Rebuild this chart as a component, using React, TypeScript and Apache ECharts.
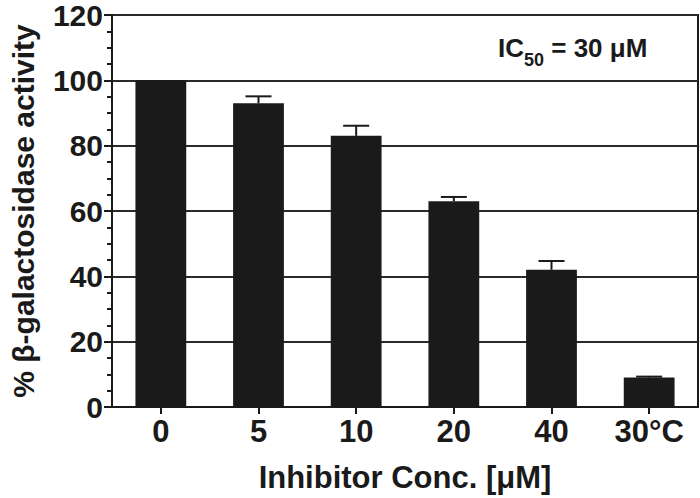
import React, { useEffect, useRef } from "react";
import * as echarts from "echarts";

const categories = ["0", "5", "10", "20", "40", "30°C"];
const activity = [100, 93, 83, 63, 42, 9];
const errorUp = [0, 2.1, 3.1, 1.3, 2.7, 0.3];
const yTicks = { min: 0, max: 120, interval: 20 };

const FONT = "'Liberation Sans', Arial, Helvetica, sans-serif";
const INK = "#1a1a1a";

export default function App() {
  const ref = useRef<HTMLDivElement>(null);
  useEffect(() => {
    if (!ref.current) return;
    const chart = echarts.init(ref.current, null, { renderer: "svg" });
    const errData = activity.map((v, i) => [i, v, v + errorUp[i]]);
    chart.setOption({
      animation: false,
      grid: {
        left: 106,
        right: 2,
        top: 14,
        bottom: 91,
        show: true,
        borderColor: INK,
        borderWidth: 2,
      },
      xAxis: {
        type: "category",
        data: categories,
        axisLine: { show: true, lineStyle: { color: INK, width: 2 } },
        axisTick: { show: true, alignWithLabel: true, length: 7, lineStyle: { color: INK, width: 2 } },
        axisLabel: { color: INK, fontFamily: FONT, fontWeight: "bold", fontSize: 31, margin: 9 },
        name: "Inhibitor Conc. [μM]",
        nameLocation: "middle",
        nameGap: 55,
        nameTextStyle: { color: INK, fontFamily: FONT, fontWeight: "bold", fontSize: 31 },
      },
      yAxis: {
        type: "value",
        min: yTicks.min,
        max: yTicks.max,
        interval: yTicks.interval,
        axisLine: { show: true, lineStyle: { color: INK, width: 2 } },
        axisTick: { show: true, length: 8, lineStyle: { color: INK, width: 2 } },
        minorTick: { show: true, splitNumber: 4, length: 5, lineStyle: { color: INK, width: 2 } },
        splitLine: { show: true, lineStyle: { color: "#2a2a2a", width: 2 } },
        axisLabel: { color: INK, fontFamily: FONT, fontWeight: "bold", fontSize: 30, lineHeight: 26, margin: 9 },
        name: "% β-galactosidase activity",
        nameLocation: "middle",
        nameGap: 74,
        nameTextStyle: { color: INK, fontFamily: FONT, fontWeight: "bold", fontSize: 30 },
      },
      series: [
        {
          type: "bar",
          data: activity,
          barWidth: "52%",
          itemStyle: { color: INK },
          z: 3,
        },
        {
          type: "custom",
          z: 4,
          data: errData,
          renderItem: (params: any, api: any) => {
            const x = api.value(0);
            const top = api.coord([x, api.value(2)]);
            const base = api.coord([x, api.value(1)]);
            const half = 13;
            if (api.value(2) - api.value(1) <= 0) return { type: "group", children: [] };
            return {
              type: "group",
              children: [
                {
                  type: "line",
                  shape: { x1: top[0], y1: top[1], x2: base[0], y2: base[1] },
                  style: { stroke: INK, lineWidth: 2 },
                },
                {
                  type: "line",
                  shape: { x1: top[0] - half, y1: top[1], x2: top[0] + half, y2: top[1] },
                  style: { stroke: INK, lineWidth: 2 },
                },
              ],
            };
          },
        },
      ],
      graphic: [
        {
          type: "text",
          left: 498,
          top: 35,
          style: {
            text: "{a|IC}{s|50}{a| = 30 μM}",
            rich: {
              a: { fontFamily: FONT, fontWeight: "bold", fontSize: 26, fill: INK, lineHeight: 32, verticalAlign: "bottom" },
              s: { fontFamily: FONT, fontWeight: "bold", fontSize: 18, fill: INK, lineHeight: 32, verticalAlign: "bottom", padding: [0, 0, -8, 0] },
            },
          },
        },
      ],
    });
    return () => chart.dispose();
  }, []);
  return <div ref={ref} style={{ width: 700, height: 498, position: "absolute", left: 0, top: 0 }} />;
}
